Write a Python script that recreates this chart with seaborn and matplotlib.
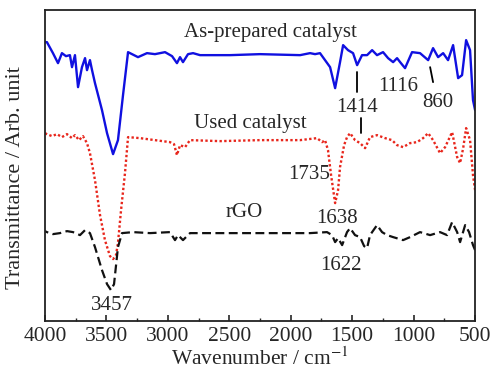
import numpy as np
import pandas as pd
import matplotlib
matplotlib.use("Agg")
import matplotlib.pyplot as plt
import seaborn as sns
from matplotlib.ticker import MultipleLocator

# wavenumber (cm-1) and transmittance (arb. units, offset per curve)
wn_prep = [4000, 3984, 3935, 3894, 3862, 3829, 3797, 3780, 3756, 3731, 3699, 3674, 3658, 3634, 3617,
           3593, 3536, 3495, 3446, 3406, 3365, 3324, 3243, 3170, 3105, 3023, 2966, 2926, 2901, 2877,
           2836, 2795, 2738, 2494, 2250, 1924, 1884, 1843, 1802, 1762, 1721, 1680, 1639, 1599, 1574,
           1534, 1493, 1460, 1420, 1379, 1338, 1298, 1249, 1208, 1167, 1135, 1110, 1070, 1013, 948,
           882, 842, 801, 760, 720, 679, 638, 606, 573, 541, 517, 500]
t_prep = [279, 279, 268, 258, 268, 265, 266, 254, 266, 234, 254, 263, 251, 261, 251,
          238, 211, 188, 167, 181, 226, 269, 264, 268, 267, 269, 265, 258, 264, 259,
          267, 268, 266, 266, 267, 266, 267, 268, 267, 268, 261, 254, 233, 259, 276,
          271, 268, 256, 266, 266, 271, 266, 269, 263, 259, 263, 259, 253, 269, 268,
          261, 273, 264, 268, 261, 276, 243, 246, 281, 271, 221, 211]

wn_used = [4000, 3984, 3943, 3902, 3862, 3821, 3780, 3756, 3723, 3691, 3658, 3634, 3593, 3552, 3512,
           3471, 3446, 3422, 3406, 3381, 3349, 3324, 3227, 3105, 2983, 2950, 2926, 2901, 2860, 2820,
           2576, 2250, 1924, 1786, 1745, 1721, 1697, 1672, 1639, 1615, 1599, 1566, 1542, 1517, 1477,
           1436, 1395, 1355, 1298, 1232, 1176, 1135, 1086, 1029, 972, 923, 882, 842, 785, 744,
           687, 646, 622, 597, 573, 541, 517, 500]
t_used = [188, 187, 185, 187, 184, 187, 183, 186, 181, 185, 178, 168, 141, 106, 81,
          65, 62, 66, 78, 111, 148, 184, 183, 181, 179, 177, 166, 176, 174, 181,
          180, 181, 181, 183, 179, 181, 171, 146, 118, 131, 154, 176, 184, 188, 181,
          178, 173, 184, 186, 183, 181, 176, 174, 178, 179, 183, 188, 181, 168, 174,
          189, 164, 158, 173, 193, 181, 146, 131]

wn_rgo = [4000, 3984, 3935, 3878, 3821, 3772, 3715, 3674, 3634, 3593, 3536, 3495, 3463, 3438, 3406,
          3373, 3284, 3145, 2983, 2942, 2917, 2877, 2820, 2494, 2169, 1843, 1705, 1664, 1639, 1615,
          1582, 1542, 1517, 1477, 1436, 1403, 1379, 1355, 1298, 1257, 1216, 1167, 1086, 1029, 948,
          866, 785, 728, 687, 646, 622, 581, 549, 517, 500]
t_rgo = [90, 89, 87, 88, 90, 89, 86, 91, 88, 74, 51, 37, 31, 37, 74,
         88, 89, 88, 89, 81, 86, 81, 88, 88, 88, 88, 89, 86, 79, 83,
         76, 89, 93, 86, 84, 75, 73, 86, 96, 89, 86, 84, 81, 84, 89,
         86, 89, 86, 99, 89, 79, 96, 89, 76, 71]

sns.set_style("ticks")
plt.rcParams['font.family'] = ['Liberation Serif', 'DejaVu Serif']
plt.rcParams['mathtext.fontset'] = 'stix'

fig = plt.figure(figsize=(4.91, 3.76), dpi=100)
ax = fig.add_axes([0.0916, 0.146, 0.876, 0.827])

sns.lineplot(x=wn_prep, y=t_prep, ax=ax, color="#1010e0", lw=1.7, linestyle="-")
sns.lineplot(x=wn_used, y=t_used, ax=ax, color="#e8261c", lw=1.7, linestyle=(0, (1, 1)))
sns.lineplot(x=wn_rgo, y=t_rgo, ax=ax, color="#111111", lw=1.6, linestyle=(0, (4, 2)))

ax.set_xlim(4000, 500)
ax.set_ylim(0, 311)
ax.xaxis.set_major_locator(MultipleLocator(500))
ax.xaxis.set_minor_locator(MultipleLocator(250))
ax.set_yticks([])
ax.tick_params(axis="x", which="major", direction="in", length=4, width=1.2, labelsize=15.5,
               top=False, pad=4)
ax.tick_params(axis="x", which="minor", direction="in", length=2.5, width=1.0, top=False)
for s in ax.spines.values():
    s.set_linewidth(1.3)
    s.set_color("#222222")

ax.set_xlabel("Wavenumber / cm$^{-1}$", fontsize=15.5, labelpad=1)
ax.set_ylabel("Transmittance / Arb. unit", fontsize=16)
ax.yaxis.set_label_coords(-0.047, 0.463)

fs = 15
ax.text(2168, 289, "As-prepared catalyst", fontsize=fs, ha="center", va="center")
ax.text(2331, 198, "Used catalyst", fontsize=fs, ha="center", va="center")
ax.text(2380, 109, "rGO", fontsize=fs, ha="center", va="center")
ax.text(1460, 214, "1414", fontsize=fs, ha="center", va="center")
ax.text(1127, 235, "1116", fontsize=fs, ha="center", va="center")
ax.text(801, 219, "860", fontsize=fs, ha="center", va="center")
ax.text(1851, 147, "1735", fontsize=fs, ha="center", va="center")
ax.text(1623, 103, "1638", fontsize=fs, ha="center", va="center")
ax.text(1591, 56, "1622", fontsize=fs, ha="center", va="center")
ax.text(3455, 16, "3457", fontsize=fs, ha="center", va="center")

ax.plot([1460, 1460], [249, 229], color="black", lw=1.3)
ax.plot([1428, 1428], [203, 188], color="black", lw=1.3)
ax.plot([866, 842], [254, 239], color="black", lw=1.3)

fig.savefig("out.png", dpi=100)
